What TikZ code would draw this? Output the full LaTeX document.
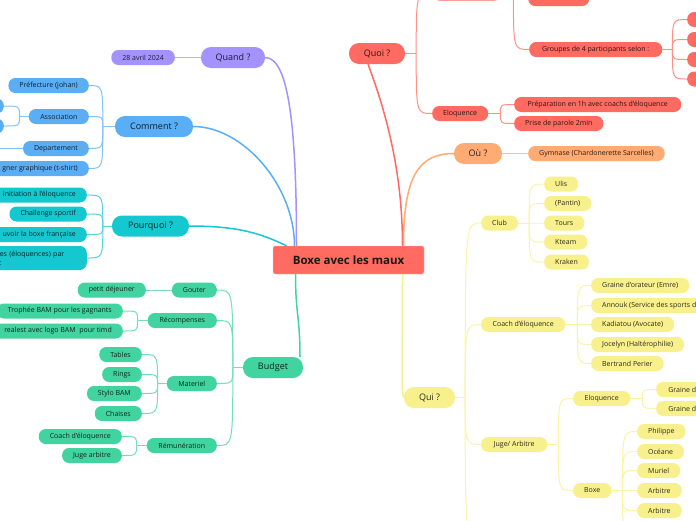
\documentclass[tikz,border=0pt]{standalone}
\usepackage{fontspec}
\setmainfont{Open Sans}
\usepackage{tikz}

\definecolor{cred}{HTML}{FF6B61}
\definecolor{cpurple}{HTML}{A493FF}
\definecolor{cblue}{HTML}{5AAEF5}
\definecolor{cteal}{HTML}{15C7CF}
\definecolor{cgreen}{HTML}{42D4A0}
\definecolor{corange}{HTML}{FFAB73}
\definecolor{cyellow}{HTML}{F8F08C}

\begin{document}
\begin{tikzpicture}[x=1pt, y=-1pt,
  leaf/.style={rounded corners=7pt, minimum height=15pt, inner xsep=11pt, inner ysep=0pt,
    fill=#1, text=#1!18!black, font=\fontsize{7}{8}\selectfont},
  topic/.style={rounded corners=10pt, minimum height=21pt, inner xsep=14pt, inner ysep=0pt,
    fill=#1, text=#1!18!black, font=\fontsize{9}{10}\selectfont},
  link/.style={draw=#1!75!white, line width=1pt},
  branch/.style={draw=#1, line width=1.5pt}]
\useasboundingbox[fill=white] (0,0) rectangle (696,520);
\clip (0,0) rectangle (696,520);

% centre
\node[fill=cred, draw=cred!45!white, rounded corners=2pt, minimum width=151pt, minimum height=28pt,
  font=\fontsize{11.5}{13}\selectfont\bfseries, text=black!90] (boxe) at (348.5,260) {Boxe avec les maux};

% Quand ?
\node[topic=cpurple, minimum width=64pt] (quand) at (233,57.5) {Quand ?};
\node[leaf=cpurple, anchor=east] (date) at (175,57.5) {28 avril 2024};
\draw[link=cpurple] (date) -- (quand);
\draw[branch=cpurple] (quand.east) .. controls +(24,0) and +(0,-115) .. ([xshift=-52pt]boxe.north);

% Comment ?
\node[topic=cblue, minimum width=78pt] (comment) at (154,126.5) {Comment ?};
\node[leaf=cblue, anchor=east] (prefecture) at (89,85.5) {Préfecture (johan)};
\node[leaf=cblue, anchor=east, minimum width=60pt] (asso) at (89,116.5) {Association};
\node[leaf=cblue, anchor=east] (departement) at (89,148.5) {Departement};
\node[leaf=cblue, anchor=east] (designer) at (89,168.5) {gner graphique (t-shirt)};
\node[leaf=cblue, anchor=east, minimum width=40pt] (assoa) at (4,106) {};
\node[leaf=cblue, anchor=east, minimum width=40pt] (assob) at (4,126) {};
\coordinate (depa) at (-2,148.5);
\draw[branch=cblue] (comment.east) .. controls +(50,0) and +(0,-60) .. ([xshift=-54pt]boxe.north);
\draw[link=cblue] (comment.west) -- ++(-12,0) coordinate (commentj);
\foreach \c in {prefecture,asso,departement,designer}
  \draw[link=cblue] (commentj) .. controls (commentj |- \c.east) .. (\c.east);
\draw[link=cblue] (asso.west) -- ++(-9,0) coordinate (assoj);
\foreach \c in {assoa,assob}
  \draw[link=cblue] (assoj) .. controls (assoj |- \c.east) .. (\c.east);
\draw[link=cblue] (departement.west) -- (depa);

% Pourquoi ?
\node[topic=cteal, minimum width=77pt] (pourquoi) at (150.5,226) {Pourquoi ?};
\node[leaf=cteal, anchor=east] (initiation) at (87,195) {initiation à l'éloquence};
\node[leaf=cteal, anchor=east] (challenge) at (87,214) {Challenge sportif};
\node[leaf=cteal, anchor=east] (promouvoir) at (87,234.5) {uvoir la boxe française};
\node[leaf=cteal, anchor=east, minimum height=24pt, text width=76pt, align=left,
  font=\fontsize{7}{9}\selectfont] (valeurs) at (87,258) {es (éloquences) par\\:};
\draw[branch=cteal] (pourquoi.east) .. controls +(50,0) and +(-25,-12) .. ([xshift=-62pt]boxe.north);
\draw[link=cteal] (pourquoi.west) -- ++(-9,0) coordinate (pourquoij);
\foreach \c in {initiation,challenge,promouvoir,valeurs}
  \draw[link=cteal] (pourquoij) .. controls (pourquoij |- \c.east) .. (\c.east);

% Budget
\node[topic=cgreen, minimum width=60pt] (budget) at (273,367.5) {Budget};
\node[leaf=cgreen, anchor=east] (gouter) at (217,290) {Gouter};
\node[leaf=cgreen, anchor=east, minimum width=69pt] (recompenses) at (217,320.5) {Récompenses};
\node[leaf=cgreen, anchor=east, minimum width=50pt] (materiel) at (217,383.5) {Materiel};
\node[leaf=cgreen, anchor=east, minimum width=70pt] (remuneration) at (217,445.5) {Rémunération};
\node[leaf=cgreen, anchor=east] (dejeuner) at (146,290) {petit déjeuner};
\node[leaf=cgreen, anchor=east] (trophee) at (123,311) {Trophée BAM pour les gagnants};
\node[leaf=cgreen, anchor=east] (bereal) at (123,331) {realest avec logo BAM\ \ pour timd};
\node[leaf=cgreen, anchor=east] (tables) at (142,354.5) {Tables};
\node[leaf=cgreen, anchor=east] (rings) at (142,374.5) {Rings};
\node[leaf=cgreen, anchor=east] (stylo) at (142,393.5) {Stylo BAM};
\node[leaf=cgreen, anchor=east] (chaises) at (142,413.5) {Chaises};
\node[leaf=cgreen, anchor=east] (coach) at (122,436.5) {Coach d'éloquence};
\node[leaf=cgreen, anchor=east] (juge) at (122,455.5) {Juge arbitre};
\draw[branch=cgreen] ([xshift=-53pt]boxe.south) .. controls +(0,40) and +(0,-40) .. ([xshift=27pt]budget.north);
\draw[link=cgreen] (budget.west) -- ++(-10,0) coordinate (budgetj);
\foreach \c in {gouter,recompenses,materiel,remuneration}
  \draw[link=cgreen] (budgetj) .. controls (budgetj |- \c.east) .. (\c.east);
\draw[link=cgreen] (dejeuner) -- (gouter);
\draw[link=cgreen] (recompenses.west) -- ++(-10,0) coordinate (recompensesj);
\foreach \c in {trophee,bereal}
  \draw[link=cgreen] (recompensesj) .. controls (recompensesj |- \c.east) .. (\c.east);
\draw[link=cgreen] (materiel.west) -- ++(-9,0) coordinate (materielj);
\foreach \c in {tables,rings,stylo,chaises}
  \draw[link=cgreen] (materielj) .. controls (materielj |- \c.east) .. (\c.east);
\draw[link=cgreen] (remuneration.west) -- ++(-10,0) coordinate (remunerationj);
\foreach \c in {coach,juge}
  \draw[link=cgreen] (remunerationj) .. controls (remunerationj |- \c.east) .. (\c.east);

% Quoi ?
\node[topic=cred, minimum width=56pt] (quoi) at (377,53.5) {Quoi ?};
\node[leaf=cred, anchor=west, minimum width=70pt] (quoia) at (432,-7) {};
\node[leaf=cred, anchor=west, minimum width=55pt] (eloquence) at (432,113.5) {Eloquence};
\node[leaf=cred, anchor=west, minimum width=61pt] (quoiaa) at (528,-1.5) {};
\node[leaf=cred, anchor=west, minimum width=133pt] (groupes) at (529,49.5) {Groupes de 4 participants selon :};
\node[leaf=cred, anchor=west, minimum width=167pt] (preparation) at (514,104.5) {Préparation en 1h avec coachs d'éloquence};
\node[leaf=cred, anchor=west] (prise) at (514,123.5) {Prise de parole 2min};
\foreach \y [count=\i] in {19.5,39.5,59.5,79}
  \node[leaf=cred, anchor=west, minimum width=30pt] (groupe\i) at (687,\y) {};
\draw[branch=cred] ([xshift=-9pt]quoi.south) .. controls +(15,40) and +(0,-80) .. ([xshift=54pt]boxe.north);
\draw[link=cred] (quoi.east) -- ++(11,0) coordinate (quoij);
\foreach \c in {quoia,eloquence}
  \draw[link=cred] (quoij) .. controls (quoij |- \c.west) .. (\c.west);
\draw[link=cred] (quoia.east) -- ++(11,0) coordinate (quoiaj);
\foreach \c in {quoiaa,groupes}
  \draw[link=cred] (quoiaj) .. controls (quoiaj |- \c.west) .. (\c.west);
\draw[link=cred] (groupes.east) -- ++(10,0) coordinate (groupesj);
\foreach \c in {groupe1,groupe2,groupe3,groupe4}
  \draw[link=cred] (groupesj) .. controls (groupesj |- \c.west) .. (\c.west);
\draw[link=cred] (eloquence.east) -- ++(12,0) coordinate (eloquencej);
\foreach \c in {preparation,prise}
  \draw[link=cred] (eloquencej) .. controls (eloquencej |- \c.west) .. (\c.west);

% Où ?
\node[topic=corange, minimum width=48pt] (ou) at (478,153.5) {Où ?};
\node[leaf=corange, anchor=west] (gymnase) at (528,153.5) {Gymnase (Chardonerette Sarcelles)};
\draw[branch=corange] ([xshift=55pt]boxe.north) .. controls +(0,-70) and +(-35,0) .. (ou.west);
\draw[link=corange] (ou) -- (gymnase);

% Qui ?
\node[topic=cyellow, minimum width=51pt] (qui) at (429.5,397.5) {Qui ?};
\node[leaf=cyellow, anchor=west, minimum width=36pt] (club) at (481,223) {Club};
\node[leaf=cyellow, anchor=west, minimum width=84pt] (coacheloq) at (481,324.5) {Coach d'éloquence};
\node[leaf=cyellow, anchor=west, minimum width=66pt] (arbitres) at (481,444.5) {Juge/ Arbitre};
\coordinate (quix) at (481,540);
\node[leaf=cyellow, anchor=west] (ulis) at (544,184) {Ulis};
\node[leaf=cyellow, anchor=west] (pantin) at (544,203.5) {(Pantin)};
\node[leaf=cyellow, anchor=west] (tours) at (544,223) {Tours};
\node[leaf=cyellow, anchor=west] (kteam) at (544,242) {Kteam};
\node[leaf=cyellow, anchor=west] (kraken) at (544,262) {Kraken};
\node[leaf=cyellow, anchor=west] (emre) at (591,285.5) {Graine d'orateur (Emre)};
\node[leaf=cyellow, anchor=west] (annouk) at (591,305.5) {Annouk (Service des sports d};
\node[leaf=cyellow, anchor=west] (kadiatou) at (591,324.5) {Kadiatou (Avocate)};
\node[leaf=cyellow, anchor=west] (jocelyn) at (591,344.5) {Jocelyn (Haltérophilie)};
\node[leaf=cyellow, anchor=west] (bertrand) at (591,363.5) {Bertrand Perier};
\node[leaf=cyellow, anchor=west, minimum width=57pt] (eloqjury) at (573,398.5) {Eloquence};
\node[leaf=cyellow, anchor=west, minimum width=38pt] (boxejury) at (573,490.5) {Boxe};
\node[leaf=cyellow, anchor=west, minimum width=52pt] (grainea) at (656,389.5) {Graine d};
\node[leaf=cyellow, anchor=west, minimum width=52pt] (graineb) at (656,408.5) {Graine d};
\node[leaf=cyellow, anchor=west] (philippe) at (637,431.5) {Philippe};
\node[leaf=cyellow, anchor=west] (oceane) at (637,451.5) {Océane};
\node[leaf=cyellow, anchor=west] (muriel) at (637,470.5) {Muriel};
\node[leaf=cyellow, anchor=west] (arbitrea) at (637,490.5) {Arbitre};
\node[leaf=cyellow, anchor=west] (arbitreb) at (637,510.5) {Arbitre};
\coordinate (boxex) at (637,532);
\draw[branch=cyellow] ([xshift=54pt]boxe.south) .. controls +(0,100) and +(-3,-8) .. (qui.west);
\draw[link=cyellow] (qui.east) -- ++(10,0) coordinate (quij);
\foreach \c in {club,coacheloq,arbitres}
  \draw[link=cyellow] (quij) .. controls (quij |- \c.west) .. (\c.west);
\draw[link=cyellow] (quij) .. controls (quij |- quix) .. (quix);
\draw[link=cyellow] (club.east) -- ++(11,0) coordinate (clubj);
\foreach \c in {ulis,pantin,tours,kteam,kraken}
  \draw[link=cyellow] (clubj) .. controls (clubj |- \c.west) .. (\c.west);
\draw[link=cyellow] (coacheloq.east) -- ++(12,0) coordinate (coacheloqj);
\foreach \c in {emre,annouk,kadiatou,jocelyn,bertrand}
  \draw[link=cyellow] (coacheloqj) .. controls (coacheloqj |- \c.west) .. (\c.west);
\draw[link=cyellow] (arbitres.east) -- ++(11,0) coordinate (arbitresj);
\foreach \c in {eloqjury,boxejury}
  \draw[link=cyellow] (arbitresj) .. controls (arbitresj |- \c.west) .. (\c.west);
\draw[link=cyellow] (eloqjury.east) -- ++(12,0) coordinate (eloqjuryj);
\foreach \c in {grainea,graineb}
  \draw[link=cyellow] (eloqjuryj) .. controls (eloqjuryj |- \c.west) .. (\c.west);
\draw[link=cyellow] (boxejury.east) -- ++(11,0) coordinate (boxejuryj);
\foreach \c in {philippe,oceane,muriel,arbitrea,arbitreb}
  \draw[link=cyellow] (boxejuryj) .. controls (boxejuryj |- \c.west) .. (\c.west);
\draw[link=cyellow] (boxejuryj) .. controls (boxejuryj |- boxex) .. (boxex);
\end{tikzpicture}
\end{document}
